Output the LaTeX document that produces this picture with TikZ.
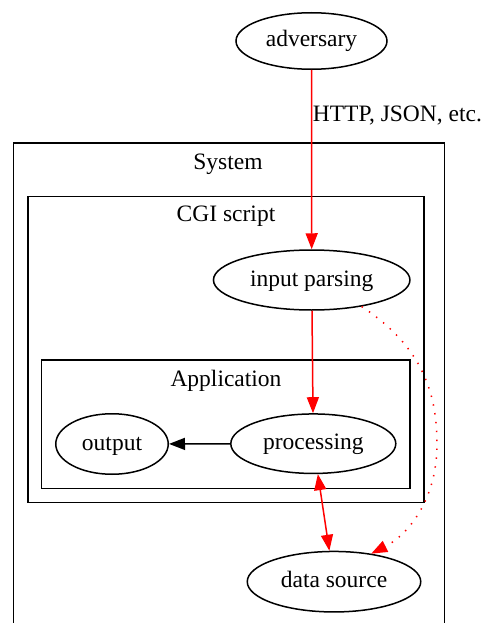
\documentclass[tikz,border=0pt]{standalone}
\usepackage{fontspec}
\setmainfont{Liberation Serif}
\usetikzlibrary{shapes.geometric,arrows.meta}

\tikzset{
  every node/.style={font=\fontsize{23.5}{28}\selectfont},
  oval/.style={draw, ellipse, line width=1.5pt, inner sep=0pt,
    text height=16pt, text depth=4pt},
  cluster/.style={draw, line width=1.5pt},
  caption/.style={anchor=base, inner sep=0pt},
  tip/.style={-{Triangle[length=16pt,width=12pt]}},
  flow/.style={red, line width=1.5pt, tip},
  call/.style={black, line width=1.5pt, tip},
  both/.style={red, line width=1.5pt,
    {Triangle[length=16pt,width=12pt]}-{Triangle[length=16pt,width=12pt]}},
  leak/.style={red, line width=1.5pt, dash pattern=on 1.4pt off 7.5pt, tip}
}

\begin{document}
\begin{tikzpicture}[x=1pt,y=-1pt]
  \path[use as bounding box, clip] (0,0) rectangle (488,623);
  \fill[white] (0,0) rectangle (488,623);

  % nested clusters
  \draw[cluster] (13.5,143) rectangle (444.5,650);
  \node[caption] (sysname) at (228,169.3) {System};
  \draw[cluster] (28,196.5) rectangle (424,502.5);
  \node[caption] (cginame) at (226,221.7) {CGI script};
  \draw[cluster] (41.5,360) rectangle (410,488.5);
  \node[caption] (appname) at (226,386) {Application};

  % components
  \node[oval, minimum width=151pt, minimum height=56.5pt] (adv) at (311.5,41) {adversary};
  \node[oval, minimum width=196.5pt, minimum height=60pt] (inp) at (311.7,280) {input parsing};
  \node[oval, minimum width=165pt, minimum height=59.5pt] (proc) at (313.3,443.7) {processing};
  \node[oval, minimum width=112.5pt, minimum height=60.5pt] (out) at (112,444) {output};
  \node[oval, minimum width=173.5pt, minimum height=60.5pt] (ds) at (334,581.7) {data source};

  % data flow
  \draw[flow] (adv) -- (inp);
  \node[caption] (proto) at (397.4,121.5) {HTTP, JSON, etc.};
  \draw[flow] (inp) -- (proc);
  \draw[call] (proc) -- (out);
  \draw[both] (proc) -- (ds);
  \draw[leak] (inp.-28) .. controls (420,345) and (437,390) .. (437,444)
              .. controls (437,502) and (406,536) .. (ds.37);
\end{tikzpicture}
\end{document}
